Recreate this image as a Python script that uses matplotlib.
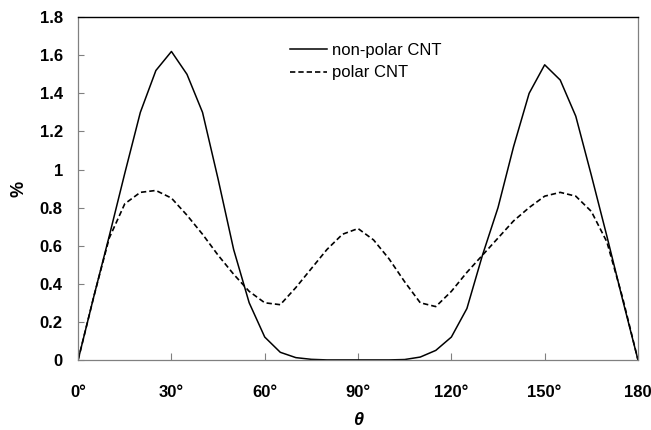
import matplotlib
matplotlib.use("Agg")
import matplotlib.pyplot as plt

plt.rcParams["font.family"] = ["Liberation Sans", "DejaVu Sans"]

# angle (degrees) and percentage for each series
theta = [0, 5, 10, 15, 20, 25, 30, 35, 40, 45, 50, 55, 60, 65, 70, 75, 80, 85,
         90, 95, 100, 105, 110, 115, 120, 125, 130, 135, 140, 145, 150, 155,
         160, 165, 170, 175, 180]
non_polar = [0, 0.33, 0.65, 0.98, 1.30, 1.52, 1.62, 1.50, 1.30, 0.95, 0.58,
             0.30, 0.12, 0.04, 0.012, 0.003, 0, 0, 0, 0, 0, 0.002, 0.015,
             0.05, 0.12, 0.27, 0.55, 0.80, 1.12, 1.40, 1.55, 1.47, 1.28,
             0.97, 0.65, 0.32, 0]
polar = [0, 0.33, 0.64, 0.82, 0.88, 0.89, 0.85, 0.76, 0.66, 0.55, 0.45, 0.36,
         0.30, 0.29, 0.38, 0.48, 0.58, 0.66, 0.69, 0.63, 0.53, 0.41, 0.30,
         0.28, 0.36, 0.46, 0.55, 0.64, 0.73, 0.80, 0.86, 0.88, 0.86, 0.78,
         0.62, 0.33, 0]

x_ticks = [0, 30, 60, 90, 120, 150, 180]
x_tick_labels = ["0°", "30°", "60°", "90°", "120°", "150°", "180"]
y_ticks = [0, 0.2, 0.4, 0.6, 0.8, 1.0, 1.2, 1.4, 1.6, 1.8]
y_tick_labels = ["0", "0.2", "0.4", "0.6", "0.8", "1", "1.2", "1.4", "1.6", "1.8"]

fig = plt.figure(figsize=(6.51, 4.30), dpi=100)
ax = fig.add_axes([0.12, 0.163, 0.86, 0.797])

ax.plot(theta, non_polar, color="black", lw=1.1, label="non-polar CNT")
ax.plot(theta, polar, color="black", lw=1.2, dashes=(3.2, 1.8),
        label="polar CNT")

ax.set_xlim(0, 180)
ax.set_ylim(0, 1.8)
ax.set_xticks(x_ticks)
ax.set_xticklabels(x_tick_labels, fontsize=12, fontweight="bold")
ax.set_yticks(y_ticks)
ax.set_yticklabels(y_tick_labels, fontsize=12, fontweight="bold")
ax.tick_params(axis="x", direction="in", length=5, width=0.8,
               color="#808080", pad=18)
ax.tick_params(axis="y", direction="in", length=4, width=0.8,
               color="#808080", pad=11)

for side in ("left", "bottom", "right"):
    ax.spines[side].set_color("#808080")
    ax.spines[side].set_linewidth(0.9)
ax.spines["top"].set_color("black")
ax.spines["top"].set_linewidth(1.0)

ax.set_ylabel("%", fontsize=13, fontweight="bold", labelpad=9)
ax.set_xlabel("θ", fontsize=13, fontweight="bold", fontstyle="italic",
              labelpad=9)

ax.legend(loc="upper left", bbox_to_anchor=(0.379, 0.925),
          frameon=False, prop={"size": 12}, borderpad=0, borderaxespad=0,
          handlelength=2.2, handletextpad=0.3, labelspacing=0.45)

fig.savefig("out.png", dpi=100)
